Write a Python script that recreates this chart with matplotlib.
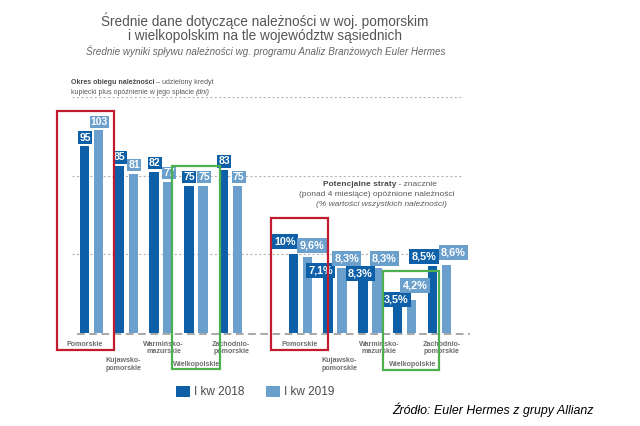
import numpy as np
import matplotlib
matplotlib.use('Agg')
import matplotlib.pyplot as plt
from matplotlib.patches import Rectangle

plt.rcParams['font.family'] = ['Liberation Sans', 'DejaVu Sans']

regions = ['Pomorskie', 'Kujawsko-\npomorskie', 'Warmińsko-\nmazurskie', 'Wielkopolskie', 'Zachodnio-\npomorskie']
days_2018 = [95, 85, 82, 75, 83]
days_2019 = [103, 81, 77, 75, 75]
loss_2018 = [10, 7.1, 8.3, 3.5, 8.5]
loss_2019 = [9.6, 8.3, 8.3, 4.2, 8.6]
series = ['I kw 2018', 'I kw 2019']

dark = '#0d5fa8'
light = '#6b9fcc'
grey = '#5a5a5a'

W, H = 640, 426
fig = plt.figure(figsize=(6.4, 4.26), dpi=100)
fig.patch.set_facecolor('white')

# main axes: baseline at y=333px, top (120 days) at y=97px
ax = fig.add_axes([60 / W, (H - 333) / H, 420 / W, 236 / H])
ax.set_xlim(-0.905, 11.164)
ax.set_ylim(0, 120)
ax.axis('off')
ax2 = ax.twinx()
ax2.set_ylim(0, 30)
ax2.axis('off')

xl = np.arange(5)
xr = np.arange(5) + 6
bw = 0.27
off = 0.2

# grid
for g in [40, 80, 120]:
    ax.axhline(g, 0.029, 0.96, color='#b5b5b5', lw=0.8, ls=(0, (2, 2)), zorder=0)
ax.axhline(-0.4, 0.04, 0.975, color='#8f8f8f', lw=1.1, ls=(0, (5, 3)), zorder=0, clip_on=False)

ax.bar(xl - off, days_2018, bw, color=dark, zorder=2, label=series[0])
ax.bar(xl + off, days_2019, bw, color=light, zorder=2, label=series[1])
ax2.bar(xr - off, loss_2018, bw, color=dark, zorder=2)
ax2.bar(xr + off, loss_2019, bw, color=light, zorder=2)

px = 0.72  # pixels -> points

# value boxes, left panel
for x, v in zip(xl, days_2018):
    ax.annotate(str(v), (x - off, v), xytext=(0.5 * px, 8.5 * px), textcoords='offset points',
                ha='center', va='center', color='white', fontsize=7.5, fontweight='bold',
                bbox=dict(boxstyle='square,pad=0.12', fc=dark, ec='none'), zorder=3)
for x, v in zip(xl, days_2019):
    ax.annotate(str(v), (x + off, v), xytext=(1 * px, 8.5 * px), textcoords='offset points',
                ha='center', va='center', color='white', fontsize=7.5, fontweight='bold',
                bbox=dict(boxstyle='square,pad=0.12', fc=light, ec='none'), zorder=3)

# value boxes, right panel (label nudges in px)
nudge_18 = [(-8, 12.5), (-7.5, 6.5), (-2.5, -6), (-1.5, 6), (-8.5, 10)]
nudge_19 = [(5, 12), (4.5, 9.5), (7.5, 9.5), (3.5, 14.5), (7, 12.5)]


def pct(v):
    return f'{v:g}'.replace('.', ',') + '%'


for x, v, (dx, dy) in zip(xr, loss_2018, nudge_18):
    ax2.annotate(pct(v), (x - off, v), xytext=(dx * px, dy * px), textcoords='offset points',
                 ha='center', va='center', color='white', fontsize=7.8, fontweight='bold',
                 bbox=dict(boxstyle='square,pad=0.22', fc=dark, ec='none'), zorder=3)
for x, v, (dx, dy) in zip(xr, loss_2019, nudge_19):
    ax2.annotate(pct(v), (x + off, v), xytext=(dx * px, dy * px), textcoords='offset points',
                 ha='center', va='center', color='white', fontsize=7.8, fontweight='bold',
                 bbox=dict(boxstyle='square,pad=0.22', fc=light, ec='none'), zorder=3)

# category labels under the baseline
lab_dy = [11, 31.5, 15, 31.5, 15]
lab_dx_l = [-6.5, -3, 2.5, 0.5, 0.5]
lab_dx_r = [-1, 4, 9, 8, 2]
for xs, dxs in [(xl, lab_dx_l), (xr, lab_dx_r)]:
    for x, name, dx, dy in zip(xs, regions, dxs, lab_dy):
        ax.annotate(name, (x, 0), xytext=(dx * px, -dy * px), textcoords='offset points',
                    ha='center', va='center', fontsize=5.1, fontweight='bold', color='#6e6e6e',
                    linespacing=1.15, annotation_clip=False)

# overlay in pixel coordinates for texts and highlight frames
ov = fig.add_axes([0, 0, 1, 1], zorder=5)
ov.set_xlim(0, W)
ov.set_ylim(H, 0)
ov.axis('off')
ov.patch.set_alpha(0)

for (x0, y0, x1, y1), c in [((57, 111, 114, 350), '#c21a2e'), ((271, 218, 328, 350), '#c21a2e'),
                            ((172, 166, 220, 369), '#4caf50'), ((383, 271, 439, 370), '#4caf50')]:
    ov.add_patch(Rectangle((x0, y0), x1 - x0, y1 - y0, fill=False, ec=c, lw=1.6))

renderer = fig.canvas.get_renderer()


def mixed(cx, y, parts, size):
    # one centred line made of differently styled pieces
    items = [ov.text(0, y, s, ha='left', va='center', fontsize=size, **kw) for s, kw in parts]
    widths = [t.get_window_extent(renderer).width for t in items]
    x = cx - sum(widths) / 2
    for t, w in zip(items, widths):
        t.set_x(x)
        x += w


ov.text(265, 28, 'Średnie dane dotyczące należności w woj. pomorskim\ni wielkopolskim na tle województw sąsiednich',
        ha='center', va='center', fontsize=9.8, color='#555555', linespacing=1.0)
ov.text(266, 51, 'Średnie wyniki spływu należności wg. programu Analiz Branżowych Euler Hermes',
        ha='center', va='center', fontsize=7.1, style='italic', color='#666666')

mixed(142.5, 83, [('Okres obiegu należności', dict(fontweight='bold', color='#4a4a4a')),
                  (' – udzielony kredyt', dict(color=grey))], 5.1)
mixed(140.5, 92, [('kupiecki plus opóźnienie w jego spłacie ', dict(color=grey)),
                  ('(dni)', dict(style='italic', color=grey))], 5.0)

mixed(380, 184, [('Potencjalne straty', dict(fontweight='bold', color='#4a4a4a')),
                 (' - znacznie', dict(color=grey))], 6.0)
ov.text(376.5, 194, '(ponad 4 miesiące) opóźnione należności', ha='center', va='center',
        fontsize=6.0, color=grey)
ov.text(381.5, 204, '(% wartości wszystkich należności)', ha='center', va='center',
        fontsize=6.0, style='italic', color=grey)

ov.text(392, 410, 'Źródło: Euler Hermes z grupy Allianz', ha='left', va='center',
        fontsize=8.9, style='italic', color='black')

fig.legend(loc='center', bbox_to_anchor=(255 / W, 1 - 392 / H), ncol=2, frameon=False,
           fontsize=8.5, handlelength=1.2, handleheight=1.1, handletextpad=0.35,
           columnspacing=1.8, labelcolor='#4a4a4a')

fig.savefig('out.png', dpi=100, facecolor='white')
